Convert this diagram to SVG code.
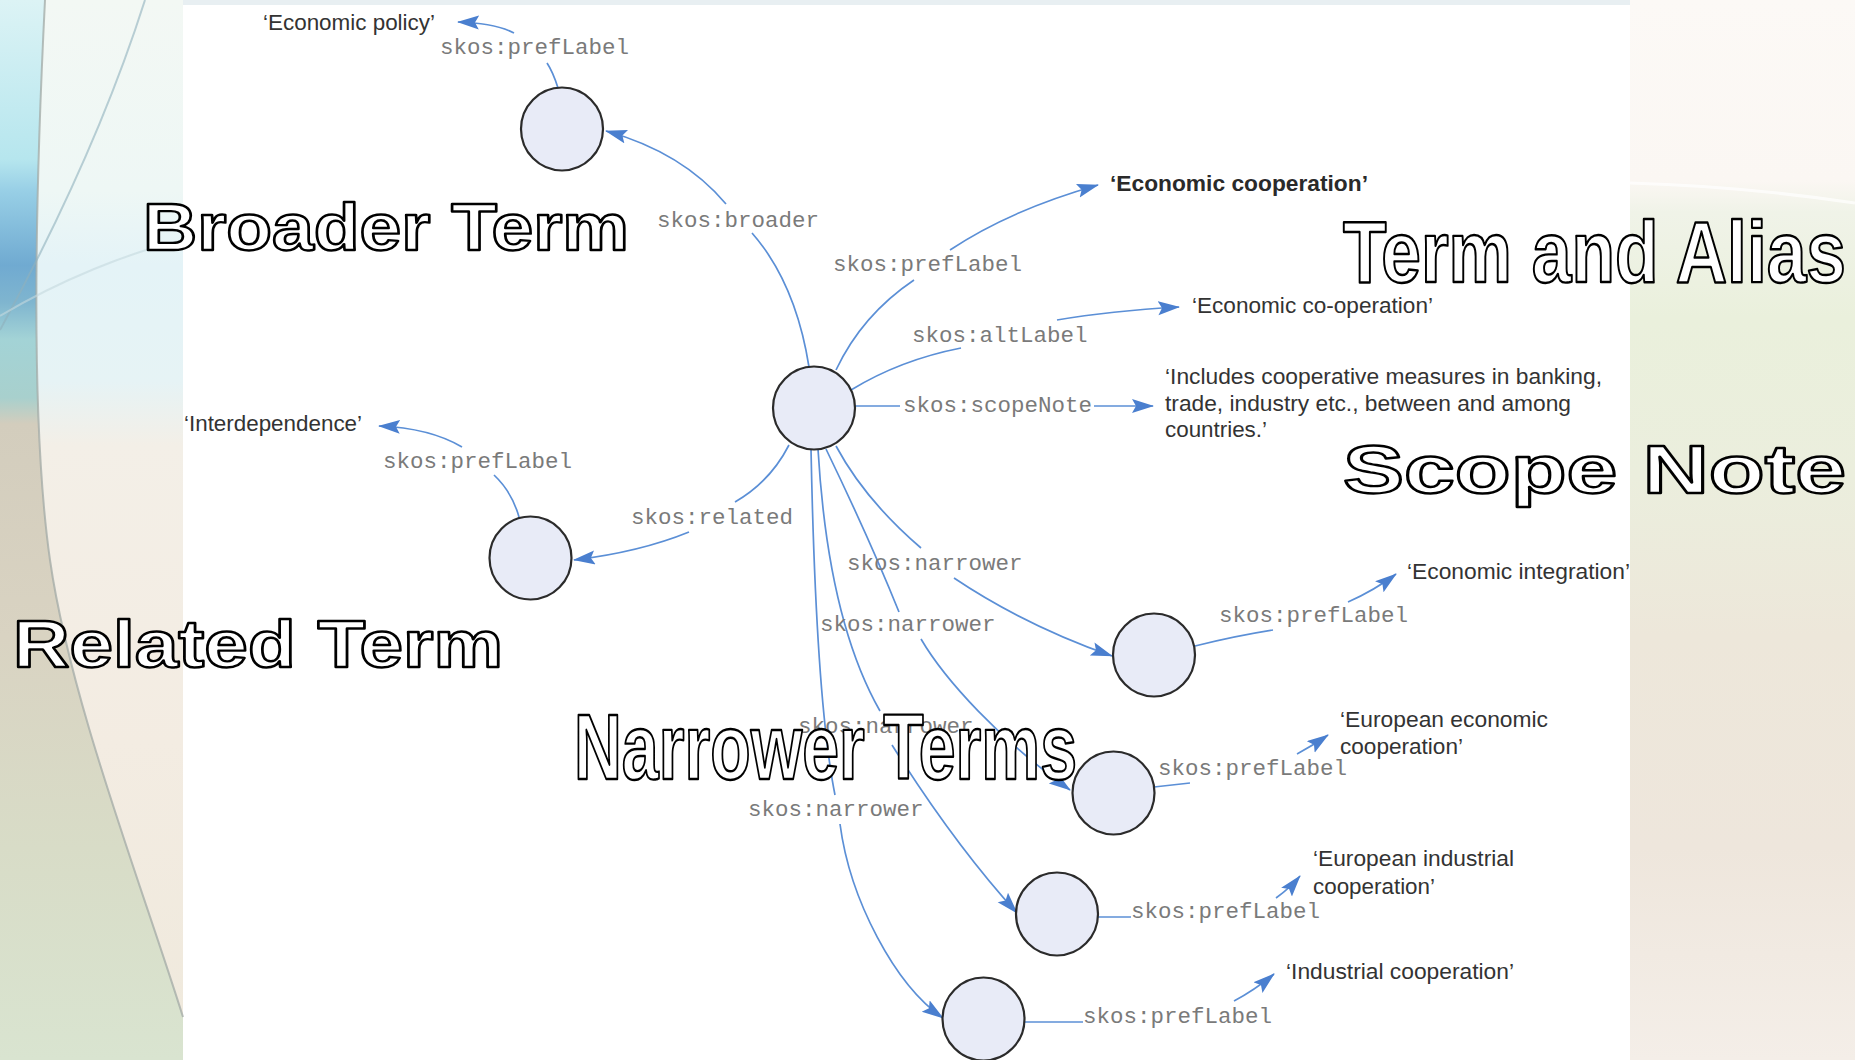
<svg xmlns="http://www.w3.org/2000/svg" width="1855" height="1060" viewBox="0 0 1855 1060">
<style>
.node{fill:#e8ebf7;stroke:#2b2b2b;stroke-width:2.2}
.edge{fill:none;stroke:#5b8fd6;stroke-width:1.7}
.arr{marker-end:url(#arrow)}
.mono{font-family:"Liberation Mono",monospace;font-size:22.5px;fill:#7a7a7a}
.lit{font-family:"Liberation Sans",Arial,sans-serif;font-size:22px;fill:#333}
.litb{font-family:"Liberation Sans",Arial,sans-serif;font-size:22px;font-weight:bold;fill:#2a2a2a}
.title{font-family:"Liberation Sans",Arial,sans-serif;font-weight:bold;fill:#fff;stroke:#000;stroke-width:2.4;stroke-linejoin:round}
</style>
<defs>
<marker id="arrow" markerWidth="24" markerHeight="16" refX="21" refY="7" orient="auto" markerUnits="userSpaceOnUse">
<path d="M0,0 L22,7 L0,14 L4,7 Z" fill="#4a7fcf"/>
</marker>
<linearGradient id="lbg" x1="0" y1="0" x2="0" y2="1060" gradientUnits="userSpaceOnUse">
<stop offset="0" stop-color="#f3f8f4"/>
<stop offset="0.18" stop-color="#eef7f5"/>
<stop offset="0.25" stop-color="#e4f3f7"/>
<stop offset="0.36" stop-color="#e6f3f5"/>
<stop offset="0.42" stop-color="#f3efe7"/>
<stop offset="0.7" stop-color="#f3ece2"/>
<stop offset="1" stop-color="#efe9dc"/>
</linearGradient>
<linearGradient id="lstrip" x1="0" y1="0" x2="0" y2="1060" gradientUnits="userSpaceOnUse">
<stop offset="0" stop-color="#dcf3f5"/>
<stop offset="0.15" stop-color="#b6e6ee"/>
<stop offset="0.18" stop-color="#98cfe6"/>
<stop offset="0.25" stop-color="#70aad1"/>
<stop offset="0.285" stop-color="#7fb5cf"/>
<stop offset="0.32" stop-color="#a3d3d6"/>
<stop offset="0.375" stop-color="#a8d0cd"/>
<stop offset="0.4" stop-color="#d3cdbd"/>
<stop offset="0.6" stop-color="#d9d3c2"/>
<stop offset="0.8" stop-color="#d8dcc7"/>
<stop offset="1" stop-color="#d9e4d0"/>
</linearGradient>
<linearGradient id="rbg" x1="0" y1="0" x2="0" y2="1">
<stop offset="0" stop-color="#fcf9f6"/>
<stop offset="0.17" stop-color="#fbf7f3"/>
<stop offset="0.2" stop-color="#f0f3e8"/>
<stop offset="0.3" stop-color="#eaf0dc"/>
<stop offset="0.45" stop-color="#ebeedd"/>
<stop offset="0.6" stop-color="#ede7da"/>
<stop offset="0.8" stop-color="#eee6dc"/>
<stop offset="1" stop-color="#f4eee8"/>
</linearGradient>
</defs>

<g id="background">
<rect x="0" y="0" width="1855" height="1060" fill="#ffffff"/>
<rect x="0" y="0" width="183" height="1060" fill="url(#lbg)"/>
<path d="M0 0 L45 0 C35 200 30 420 50 560 S140 880 183 1017 L183 1060 L0 1060 Z" fill="url(#lstrip)"/>
<path d="M45 0 C35 200 30 420 50 560 S140 880 183 1017" fill="none" stroke="#a2aaa6" stroke-width="2" opacity="0.75"/>
<path d="M145 0 C110 110 60 220 0 330" fill="none" stroke="#8fb0bd" stroke-width="2" opacity="0.6"/>
<path d="M0 316 C60 280 130 252 183 240" fill="none" stroke="#c4d9de" stroke-width="2" opacity="0.6"/>
<rect x="1630" y="0" width="225" height="1060" fill="url(#rbg)"/>
<path d="M1630 183 Q1740 186 1855 203" fill="none" stroke="#ffffff" stroke-width="3" opacity="0.7"/>
<rect x="183" y="0" width="1447" height="5" fill="#e8eff2"/>
</g>

<g id="connectors">
<path class="edge" d="M558 88 Q553 72 547 63"/>
<path class="edge arr" d="M514 33 Q495 23 458 22"/>
<path class="edge" d="M809 367 C800 310 780 265 752 233"/>
<path class="edge arr" d="M726 204 C700 173 660 146 606 131"/>
<path class="edge" d="M836 370 Q862 315 914 280"/>
<path class="edge arr" d="M950 250 Q1010 210 1098 185"/>
<path class="edge" d="M851 390 Q900 360 961 348"/>
<path class="edge arr" d="M1057 320 Q1110 311 1179 307"/>
<path class="edge" d="M855 406 L900 406"/>
<path class="edge arr" d="M1094 406 L1153 406"/>
<path class="edge" d="M789 445 Q770 482 735 502"/>
<path class="edge arr" d="M689 532 Q640 552 574 560"/>
<path class="edge" d="M519 517 Q512 492 494 475"/>
<path class="edge arr" d="M462 447 Q430 428 379 426"/>
<path class="edge" d="M836 446 Q865 500 921 548"/>
<path class="edge arr" d="M954 578 Q1024 625 1112 656"/>
<path class="edge" d="M826 449 Q870 540 899 612"/>
<path class="edge arr" d="M921 639 C945 680 1000 740 1070 790"/>
<path class="edge" d="M818 449 Q828 620 880 711"/>
<path class="edge arr" d="M892 745 Q955 845 1017 913"/>
<path class="edge" d="M811 449 Q816 700 835 795"/>
<path class="edge arr" d="M840 824 C850 900 895 985 943 1018"/>
<path class="edge" d="M1195 646 Q1235 636 1273 630"/>
<path class="edge arr" d="M1348 602 Q1375 590 1396 574"/>
<path class="edge" d="M1154 787 L1190 783"/>
<path class="edge arr" d="M1297 754 Q1312 746 1328 735"/>
<path class="edge" d="M1098 917 L1131 917"/>
<path class="edge arr" d="M1276 898 Q1290 888 1300 876"/>
<path class="edge" d="M1024 1022 L1083 1022"/>
<path class="edge arr" d="M1234 1001 Q1255 990 1274 974"/>
</g>

<g id="edge-labels">
<text class="mono" x="440" y="54">skos:prefLabel</text>
<text class="mono" x="657" y="227">skos:broader</text>
<text class="mono" x="833" y="271">skos:prefLabel</text>
<text class="mono" x="912" y="342">skos:altLabel</text>
<text class="mono" x="903" y="412">skos:scopeNote</text>
<text class="mono" x="631" y="524">skos:related</text>
<text class="mono" x="383" y="468">skos:prefLabel</text>
<text class="mono" x="847" y="570">skos:narrower</text>
<text class="mono" x="820" y="631">skos:narrower</text>
<text class="mono" x="798" y="733">skos:narrower</text>
<text class="mono" x="748" y="816">skos:narrower</text>
<text class="mono" x="1219" y="622">skos:prefLabel</text>
<text class="mono" x="1158" y="775">skos:prefLabel</text>
<text class="mono" x="1131" y="918">skos:prefLabel</text>
<text class="mono" x="1083" y="1023">skos:prefLabel</text>
</g>

<g id="node-broader"><ellipse class="node" cx="562" cy="129" rx="41" ry="41.5"/></g>
<g id="node-central"><ellipse class="node" cx="814" cy="408" rx="41" ry="41.5"/></g>
<g id="node-related"><ellipse class="node" cx="530.5" cy="558" rx="41" ry="41.5"/></g>
<g id="node-narrower-1"><ellipse class="node" cx="1154" cy="655" rx="41" ry="41.5"/></g>
<g id="node-narrower-2"><ellipse class="node" cx="1113.5" cy="793" rx="41" ry="41.5"/></g>
<g id="node-narrower-3"><ellipse class="node" cx="1057" cy="914" rx="41" ry="41.5"/></g>
<g id="node-narrower-4"><ellipse class="node" cx="983.5" cy="1019" rx="41" ry="41.5"/></g>

<g id="lit-economic-policy"><text class="lit" x="263" y="30" textLength="172" lengthAdjust="spacingAndGlyphs">‘Economic policy’</text></g>
<g id="lit-interdependence"><text class="lit" x="184" y="431" textLength="178" lengthAdjust="spacingAndGlyphs">‘Interdependence’</text></g>
<g id="lit-economic-cooperation"><text class="litb" x="1110" y="191" textLength="258" lengthAdjust="spacingAndGlyphs">‘Economic cooperation’</text></g>
<g id="lit-economic-co-operation"><text class="lit" x="1192" y="313" textLength="241" lengthAdjust="spacingAndGlyphs">‘Economic co-operation’</text></g>
<g id="lit-scope-note">
<text class="lit" x="1165" y="384" textLength="437" lengthAdjust="spacingAndGlyphs">‘Includes cooperative measures in banking,</text>
<text class="lit" x="1165" y="411" textLength="406" lengthAdjust="spacingAndGlyphs">trade, industry etc., between and among</text>
<text class="lit" x="1165" y="437" textLength="102" lengthAdjust="spacingAndGlyphs">countries.’</text>
</g>
<g id="lit-economic-integration"><text class="lit" x="1407" y="579" textLength="223" lengthAdjust="spacingAndGlyphs">‘Economic integration’</text></g>
<g id="lit-european-economic">
<text class="lit" x="1340" y="727" textLength="208" lengthAdjust="spacingAndGlyphs">‘European economic</text>
<text class="lit" x="1340" y="754" textLength="123" lengthAdjust="spacingAndGlyphs">cooperation’</text>
</g>
<g id="lit-european-industrial">
<text class="lit" x="1313" y="866" textLength="201" lengthAdjust="spacingAndGlyphs">‘European industrial</text>
<text class="lit" x="1313" y="894" textLength="122" lengthAdjust="spacingAndGlyphs">cooperation’</text>
</g>
<g id="lit-industrial-cooperation"><text class="lit" x="1286" y="979" textLength="228" lengthAdjust="spacingAndGlyphs">‘Industrial cooperation’</text></g>

<g id="titles">
<text class="title" x="143" y="250" font-size="66" textLength="486" lengthAdjust="spacingAndGlyphs">Broader Term</text>
<text class="title" x="13" y="667" font-size="67" textLength="490" lengthAdjust="spacingAndGlyphs">Related Term</text>
<text class="title" x="1343" y="282" font-size="88" textLength="503" lengthAdjust="spacingAndGlyphs">Term and Alias</text>
<text class="title" x="1343" y="493" font-size="69" textLength="503" lengthAdjust="spacingAndGlyphs">Scope Note</text>
<text class="title" x="574" y="779" font-size="92" textLength="503" lengthAdjust="spacingAndGlyphs">Narrower Terms</text>
</g>
</svg>
